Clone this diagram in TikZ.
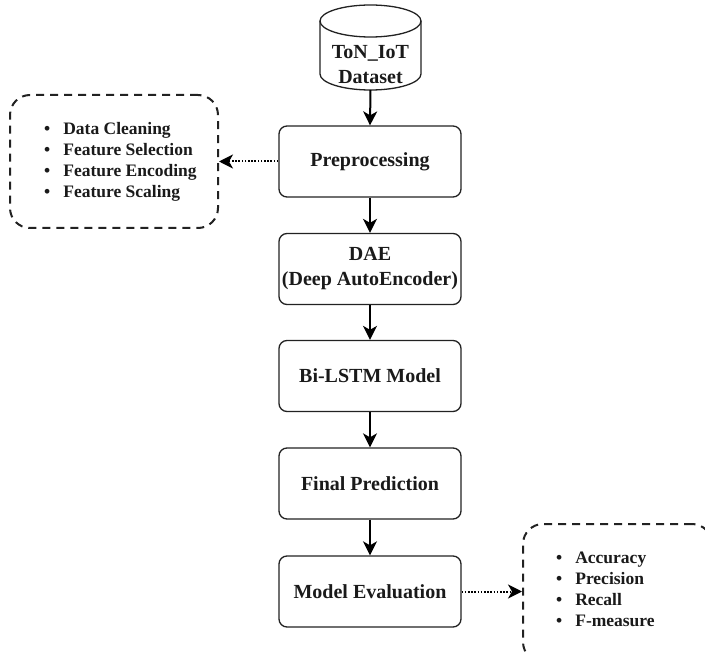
\documentclass[tikz,border=0pt]{standalone}
\usepackage{fontspec}
\setmainfont{Liberation Serif}
\usetikzlibrary{arrows.meta}
\definecolor{ink}{HTML}{1A1A1A}
\definecolor{edge}{HTML}{222222}
\begin{document}
\begin{tikzpicture}[x=1pt,y=-1pt,
  boxline/.style={draw=edge,line width=1.3pt},
  stepbox/.style={boxline,rounded corners=8pt,minimum width=182pt,minimum height=71pt,
    inner sep=0pt,align=center,text=ink,font=\fontsize{20}{25}\selectfont\bfseries},
  notebox/.style={draw=edge,line width=2pt,dash pattern=on 8pt off 6pt,rounded corners=20pt,inner sep=0pt},
  listtext/.style={inner sep=0pt,anchor=west,align=left,text=ink,
    font=\fontsize{17.5}{21}\selectfont\bfseries},
  flow/.style={draw=black,line width=2pt,-{Stealth[length=14pt,width=14pt,inset=4pt]}},
  aside/.style={draw=black,line width=2pt,dash pattern=on 1.6pt off 1.6pt,
    -{Stealth[length=14pt,width=14pt,inset=4pt]}}]
\useasboundingbox (0,0) rectangle (705,655);
\clip (0,0) rectangle (705,655);

% dataset cylinder
\draw[boxline,fill=white] (320,21) -- (320,74)
  arc[start angle=180,end angle=360,x radius=50.5pt,y radius=16pt] -- (421,21);
\draw[boxline] (370.5,21) ellipse[x radius=50.5pt,y radius=16pt];
\node[inner sep=0pt,align=center,text=ink,font=\fontsize{20}{25}\selectfont\bfseries]
  (db) at (370.5,64.5) {ToN\_IoT\\Dataset};
\coordinate (dbb) at (370.5,90);

% pipeline steps
\node[stepbox] (pre) at (370,161.5) {Preprocessing};
\node[stepbox] (dae) at (370,269) {DAE\\(Deep AutoEncoder)};
\node[stepbox] (bil) at (370,376) {Bi-LSTM Model};
\node[stepbox] (fin) at (370,483.5) {Final Prediction};
\node[stepbox] (mev) at (370,591.5) {Model Evaluation};

\draw[flow] (dbb) -- (pre.north);
\draw[flow] (pre) -- (dae);
\draw[flow] (dae) -- (bil);
\draw[flow] (bil) -- (fin);
\draw[flow] (fin) -- (mev);

% preprocessing details
\node[notebox,minimum width=208pt,minimum height=133pt] (prebox) at (114,161.5) {};
\node[listtext] (prelist) at (44,161.5) {%
  \begin{tabular}{@{}l@{\hspace{13pt}}l@{}}
  \textbullet & Data Cleaning\\
  \textbullet & Feature Selection\\
  \textbullet & Feature Encoding\\
  \textbullet & Feature Scaling
  \end{tabular}};
\draw[aside] (pre.west) -- (prebox.east);

% evaluation metrics
\node[notebox,minimum width=189pt,minimum height=138pt] (evbox) at (617.5,593) {};
\node[listtext] (evlist) at (556,591) {%
  \begin{tabular}{@{}l@{\hspace{13pt}}l@{}}
  \textbullet & Accuracy\\
  \textbullet & Precision\\
  \textbullet & Recall\\
  \textbullet & F-measure
  \end{tabular}};
\draw[aside] (mev.east) -- (mev.east -| evbox.west);
\end{tikzpicture}
\end{document}
